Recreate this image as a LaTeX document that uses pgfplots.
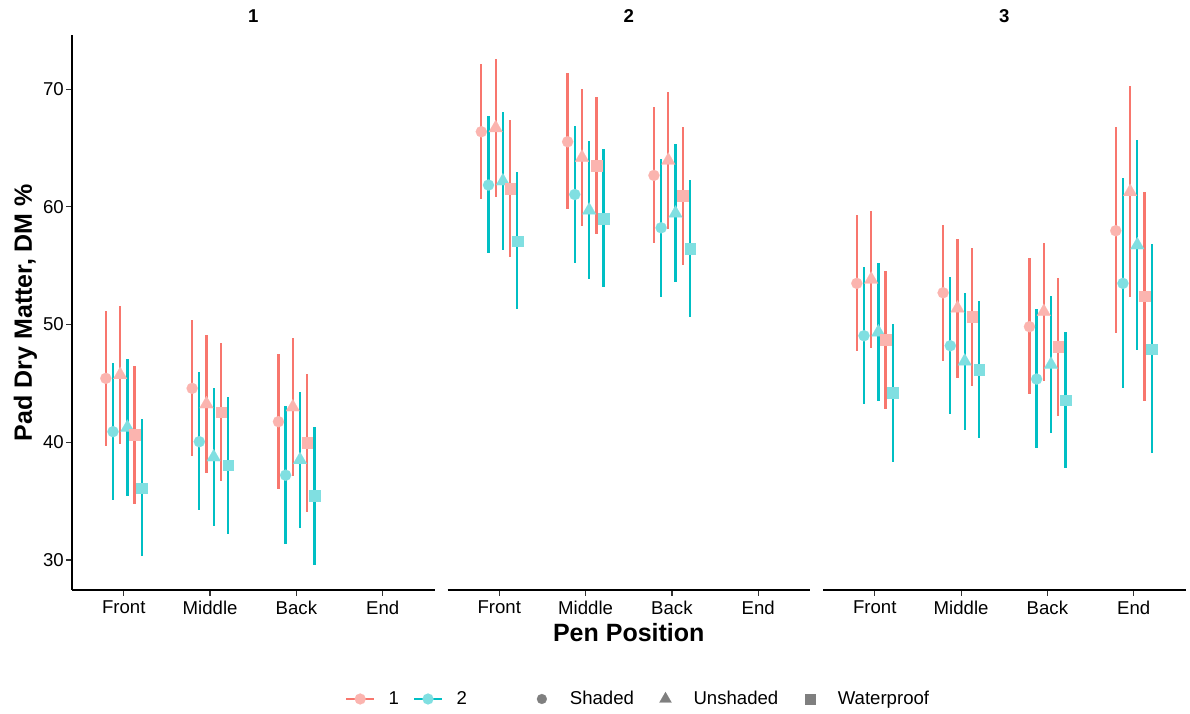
\documentclass[border=0pt]{standalone}
\usepackage{fontspec}
\setmainfont{Liberation Sans}
\usepackage{pgfplots}
\usepackage{pgfplotstable}
\pgfplotsset{compat=1.18}

\definecolor{grpA}{HTML}{F8766D}
\definecolor{grpB}{HTML}{00BFC4}
\colorlet{ptgrpA}{grpA!55!white}
\colorlet{ptgrpB}{grpB!50!white}
\definecolor{keygray}{HTML}{7F7F7F}

\newcommand{\ticksize}{\fontsize{18.6}{22}\selectfont}
\newcommand{\stripfont}{\fontsize{18.6}{22}\selectfont\bfseries}
\newcommand{\titlefont}{\fontsize{25}{30}\selectfont\bfseries}

% columns: a = group 1, b = group 2; S/U/W = Shaded/Unshaded/Waterproof
% each series: mean, lower and upper limit
\pgfplotstableread{
pos aS    aSlo  aShi  bS    bSlo  bShi  aU    aUlo  aUhi  bU    bUlo  bUhi  aW    aWlo  aWhi  bW    bWlo  bWhi
1   45.43 39.68 51.15 40.90 35.10 46.76 45.73 39.85 51.60 41.25 35.40 47.10 40.64 34.75 46.50 36.10 30.30 42.00
2   44.58 38.83 50.36 40.05 34.25 45.94 43.25 37.40 49.10 38.74 32.90 44.58 42.57 36.68 48.40 38.07 32.20 43.87
3   41.75 36.00 47.47 37.20 31.40 43.08 42.98 37.13 48.83 38.50 32.70 44.30 39.97 34.10 45.80 35.46 29.58 41.30
}\facetone

\pgfplotstableread{
pos aS    aSlo  aShi  bS    bSlo  bShi  aU    aUlo  aUhi  bU    bUlo  bUhi  aW    aWlo  aWhi  bW    bWlo  bWhi
1   66.38 60.63 72.10 61.85 56.05 67.73 66.70 60.86 72.55 62.18 56.33 68.02 61.56 55.70 67.42 57.09 51.29 62.92
2   65.53 59.78 71.33 61.05 55.20 66.90 64.19 58.37 70.00 59.70 53.84 65.56 63.49 57.69 69.35 59.00 53.16 64.88
3   62.67 56.95 68.45 58.22 52.36 64.08 63.94 58.11 69.77 59.44 53.58 65.30 60.94 55.05 66.75 56.47 50.60 62.27
}\facettwo

\pgfplotstableread{
pos aS    aSlo  aShi  bS    bSlo  bShi  aU    aUlo  aUhi  bU    bUlo  bUhi  aW    aWlo  aWhi  bW    bWlo  bWhi
1   53.50 47.75 59.30 49.05 43.22 54.91 53.83 47.98 59.67 49.35 43.50 55.20 48.74 42.85 54.57 44.24 38.35 50.04
2   52.70 46.93 58.45 48.20 42.37 54.06 51.37 45.50 57.23 46.87 41.04 52.70 50.67 44.80 56.53 46.20 40.33 52.00
3   49.82 44.10 55.62 45.37 39.54 51.29 51.09 45.23 56.95 46.60 40.76 52.45 48.12 42.23 53.92 43.59 37.79 49.39
4   57.97 49.25 66.75 53.50 44.58 62.41 61.28 52.31 70.25 56.75 47.83 65.67 52.42 43.50 61.28 47.92 39.06 56.84
}\facetthree

% vertical range of one series, dodged by #3
\newcommand{\rangebar}[4]{%
  \addplot[only marks, mark=none, forget plot,
    error bars/.cd, y dir=both, y explicit,
    error bar style={#4, line width=2.3pt}, error mark=none]
  table[x expr=\thisrow{pos}+#3, y=#2,
        y error plus expr=\thisrow{#2hi}-\thisrow{#2},
        y error minus expr=\thisrow{#2}-\thisrow{#2lo}] {#1};
}
% mean point of one series
\newcommand{\meanpt}[5]{%
  \addplot[only marks, forget plot, color=#4, #5,
    mark options={draw=#4, fill=#4, line width=0.1pt}]
  table[x expr=\thisrow{pos}+#3, y=#2] {#1};
}
\newcommand{\drawfacet}[1]{%
  \rangebar{#1}{aS}{-0.2083}{grpA}
  \rangebar{#1}{bS}{-0.1250}{grpB}
  \rangebar{#1}{aU}{-0.0417}{grpA}
  \rangebar{#1}{bU}{0.0417}{grpB}
  \rangebar{#1}{aW}{0.1250}{grpA}
  \rangebar{#1}{bW}{0.2083}{grpB}
  \meanpt{#1}{aS}{-0.2083}{ptgrpA}{mark=*, mark size=5.6pt}
  \meanpt{#1}{bS}{-0.1250}{ptgrpB}{mark=*, mark size=5.6pt}
  \meanpt{#1}{aU}{-0.0417}{ptgrpA}{mark=triangle*, mark size=8pt}
  \meanpt{#1}{bU}{0.0417}{ptgrpB}{mark=triangle*, mark size=8pt}
  \meanpt{#1}{aW}{0.1250}{ptgrpA}{mark=square*, mark size=5.3pt}
  \meanpt{#1}{bW}{0.2083}{ptgrpB}{mark=square*, mark size=5.3pt}
}

\pgfplotsset{
  facet/.style={
    scale only axis, width=362.5pt, height=555pt,
    anchor=south west,
    xmin=0.4, xmax=4.6, ymin=27.45, ymax=74.6,
    xtick={1,2,3,4}, xticklabels={Front,Middle,Back,End},
    axis x line*=bottom,
    axis line style={line width=1.2pt, black},
    tick style={line width=1.2pt, black!80},
    major tick length=6pt, tick align=outside,
    tick label style={font=\ticksize, black},
    /pgf/number format/assume math mode=true,
    xticklabel style={inner sep=0pt, yshift=-5pt},
    yticklabel style={inner sep=0pt, xshift=-2pt},
    title style={font=\stripfont, at={(0.5,1)}, anchor=center, yshift=13pt},
    clip=false,
  },
  noyaxis/.style={axis y line=none, ytick=\empty},
  keycolour/.style 2 args={legend image code/.code={%
    \path[draw=none, fill=none] (#2,-7pt) rectangle (42.5pt,7pt);
    \draw[#1, line width=2.4pt, mark=*, mark repeat=2, mark phase=2,
      mark options={fill=pt#1, draw=pt#1, line width=0.1pt}, mark size=5.5pt]
      plot coordinates {(0pt,0pt) (14pt,0pt) (28pt,0pt)};}},
  keyshape/.style 2 args={legend image code/.code={%
    \path[draw=none, fill=none] (#2,-7pt) rectangle (28pt,7pt);
    \draw[keygray, #1, mark options={fill=keygray, draw=keygray, line width=0.1pt}]
      plot[only marks] coordinates {(0pt,0pt)};}},
}

\begin{document}
\begin{tikzpicture}
\path[use as bounding box] (0pt,0pt) rectangle (1190pt,714pt);

\begin{axis}[facet, at={(72pt,124pt)}, title={1},
  axis y line*=left, ytick={30,40,50,60,70},
  ylabel={Pad Dry Matter, DM \%},
  ylabel style={font=\titlefont, at={(-0.1288,0.5)}, anchor=center}]
\drawfacet{\facetone}
\end{axis}

\begin{axis}[facet, noyaxis, at={(447.5pt,124pt)}, title={2},
  xlabel={Pen Position},
  xlabel style={font=\titlefont, at={(0.5,0)}, anchor=center, yshift=-43pt},
  legend columns=5,
  legend style={draw=none, fill=none, at={(-0.2828,-0.1964)}, anchor=west,
    inner sep=0pt, outer sep=0pt, column sep=0pt, font=\ticksize,
    nodes={inner sep=0pt}},
  legend cell align=left]
\drawfacet{\facettwo}
\addlegendimage{keycolour={grpA}{0pt}}
\addlegendentry{1}
\addlegendimage{keycolour={grpB}{-15pt}}
\addlegendentry{2}
\addlegendimage{keyshape={mark=*, mark size=5pt}{-75pt}}
\addlegendentry{Shaded}
\addlegendimage{keyshape={mark=triangle*, mark size=7pt}{-31.5pt}}
\addlegendentry{Unshaded}
\addlegendimage{keyshape={mark=square*, mark size=4.8pt}{-31.5pt}}
\addlegendentry{Waterproof}
\end{axis}

\begin{axis}[facet, noyaxis, at={(823pt,124pt)}, title={3}]
\drawfacet{\facetthree}
\end{axis}
\end{tikzpicture}
\end{document}
